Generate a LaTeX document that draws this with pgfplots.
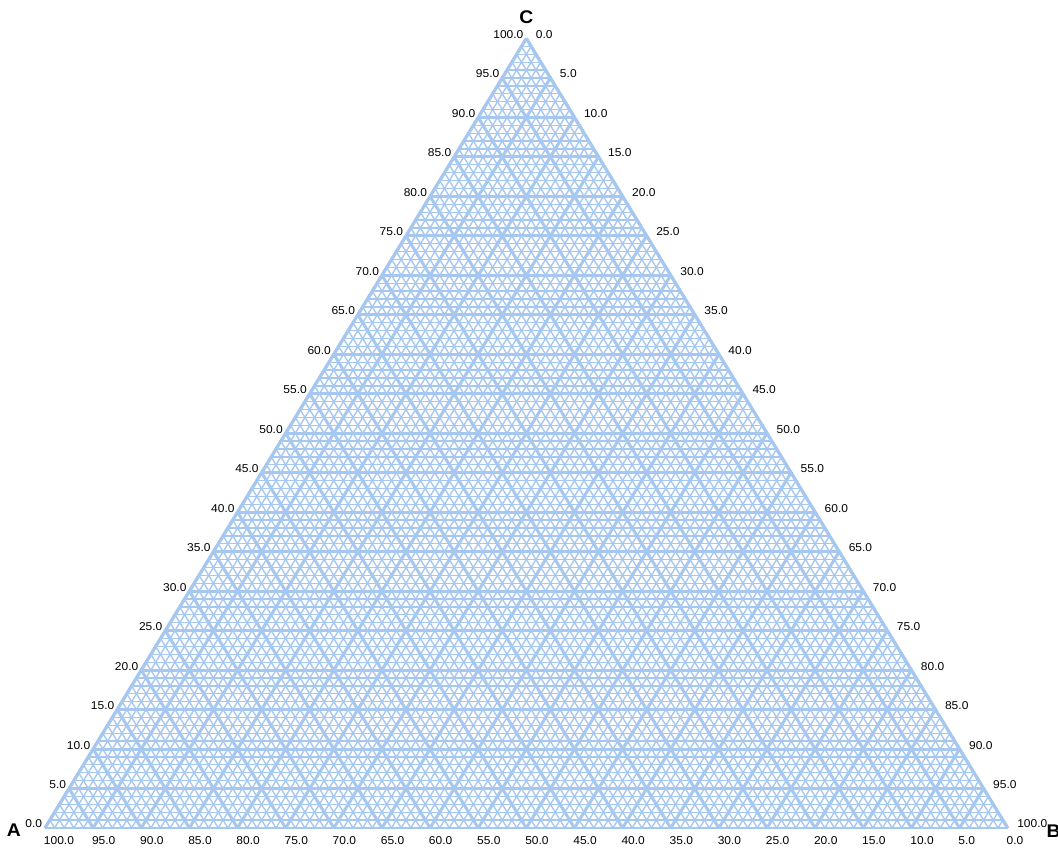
\documentclass[border=0pt]{standalone}
\usepackage{pgfplots}
\pgfplotsset{compat=1.18}
\usepgfplotslibrary{ternary}
\usepackage{fontspec}
\setmainfont{Liberation Sans}
\definecolor{gridblue}{RGB}{166,199,240}
\tikzset{
  ticklab/.style={inner sep=0pt, font=\fontsize{9}{10}\selectfont},
  corner/.style={inner sep=0pt, font=\fontsize{14.5}{16}\selectfont\bfseries},
}
\newcommand{\lab}[1]{\pgfmathprintnumber[fixed,fixed zerofill,precision=1,assume math mode=true]{#1}}
\begin{document}
\begin{tikzpicture}
\useasboundingbox (-33.75pt,-18pt) rectangle (759.75pt,621pt);
\begin{scope}[transform canvas={yscale=0.947}]
\begin{ternaryaxis}[
  at={(0,0)}, anchor=south west,
  scale only axis, width=722pt, height=592pt,
  ternary limits relative=false,
  xmin=0, xmax=100, ymin=0, ymax=100, zmin=0, zmax=100,
  xtick={0,5,...,100}, ytick={0,5,...,100}, ztick={0,5,...,100},
  minor tick num=4,
  grid=both,
  major grid style={gridblue, line width=2.3pt},
  minor grid style={gridblue, line width=1.05pt},
  axis line style={gridblue, line width=2.3pt},
  tick style={draw=none},
  xticklabels={}, yticklabels={}, zticklabels={},
  tick label style={opacity=0},
  clip=false,
]
% left side: C fraction
\pgfplotsinvokeforeach{0,5,...,100}{
  \node[ticklab, anchor=base east, xshift=-2pt] at (axis cs:#1,{100-#1},0) {\lab{#1}};
}
% right side: B fraction
\pgfplotsinvokeforeach{0,5,...,100}{
  \node[ticklab, anchor=base west, xshift=7pt] at (axis cs:{100-#1},0,#1) {\lab{#1}};
}
% bottom: A fraction
\pgfplotsinvokeforeach{0,5,...,100}{
  \node[ticklab, anchor=north west, xshift=-1pt, yshift=-6.5pt] at (axis cs:0,#1,{100-#1}) {\lab{#1}};
}
\node[corner, anchor=base east, xshift=-18pt, yshift=-6.75pt] at (axis cs:0,100,0) {A};
\node[corner, anchor=base west, xshift=29pt, yshift=-7.5pt] at (axis cs:0,0,100) {B};
\node[corner, anchor=base, yshift=12pt] at (axis cs:100,0,0) {C};
\end{ternaryaxis}
\end{scope}
\end{tikzpicture}
\end{document}
